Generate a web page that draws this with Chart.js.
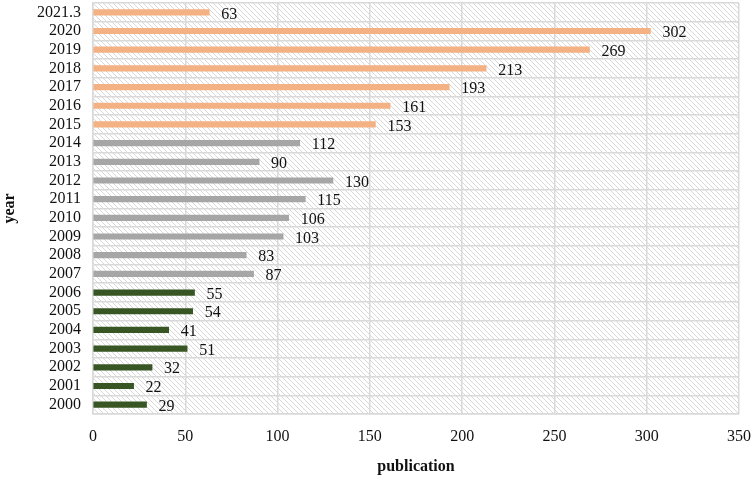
<!DOCTYPE html>
<html><head><meta charset="utf-8">
<script src="https://cdn.jsdelivr.net/npm/chart.js@4"></script>
<style>html,body{margin:0;padding:0;background:#fff}#w{width:754px;height:480px}</style>
</head><body><div id="w"><canvas id="c"></canvas></div>
<script>
const categories = ["2021.3","2020","2019","2018","2017","2016","2015","2014","2013","2012","2011","2010","2009","2008","2007","2006","2005","2004","2003","2002","2001","2000"];
const publications = [63,302,269,213,193,161,153,112,90,130,115,106,103,83,87,55,54,41,51,32,22,29];
const periodColors = {recent:"#F4B183", middle:"#A6A6A6", early:"#375623"};
const periods = ["recent","recent","recent","recent","recent","recent","recent","middle","middle","middle","middle","middle","middle","middle","middle","early","early","early","early","early","early","early"];
const xTicks = [0,50,100,150,200,250,300,350];

const FONT = "'Liberation Serif','Times New Roman',serif";

function hatch(ctx){
  const s = 5, p = document.createElement('canvas');
  p.width = s; p.height = s;
  const g = p.getContext('2d');
  g.fillStyle = '#ffffff'; g.fillRect(0,0,s,s);
  g.strokeStyle = '#d8d8d8'; g.lineWidth = 1;
  g.beginPath();
  g.moveTo(-1,-1); g.lineTo(s+1,s+1);
  g.moveTo(-1,s-1); g.lineTo(1,s+1);
  g.moveTo(s-1,-1); g.lineTo(s+1,1);
  g.stroke();
  return ctx.createPattern(p,'repeat');
}

const bgPlugin = {
  id:'bg',
  beforeDraw(chart){
    const {ctx, chartArea:a} = chart;
    ctx.save();
    ctx.fillStyle = hatch(ctx);
    ctx.fillRect(a.left,a.top,a.right-a.left,a.bottom-a.top);
    ctx.restore();
  }
};
const labelPlugin = {
  id:'vals',
  afterDatasetsDraw(chart){
    const ctx = chart.ctx;
    const meta = chart.getDatasetMeta(0);
    ctx.save();
    ctx.font = "16px " + FONT;
    ctx.fillStyle = '#111';
    ctx.textAlign = 'left'; ctx.textBaseline = 'middle';
    meta.data.forEach((el,i)=>{
      ctx.fillText(String(publications[i]), el.x + 12, el.y + 2);
    });
    ctx.restore();
  }
};

new Chart(document.getElementById('c'), {
  type:'bar',
  data:{
    labels: categories,
    datasets:[{
      data: publications,
      backgroundColor: periods.map(p=>periodColors[p]),
      barThickness: 5.5,
      borderWidth: 0
    }]
  },
  options:{
    indexAxis:'y',
    responsive:true, maintainAspectRatio:false, animation:false,
    layout:{padding:{top:3,right:15,left:0,bottom:0}},
    plugins:{legend:{display:false}, tooltip:{enabled:false}},
    scales:{
      x:{
        min:0, max:350,
        afterBuildTicks(s){ s.ticks = xTicks.map(v=>({value:v})); },
        afterFit(s){ s.height = 66; s.paddingLeft = 0; s.paddingRight = 0; },
        grid:{color:'#d9d9d9', lineWidth:1.5, drawTicks:false},
        border:{display:true, color:'#d9d9d9', width:1.5},
        ticks:{color:'#111', font:{family:FONT, size:16}, padding:13},
        title:{display:true, text:'publication', color:'#111', font:{family:FONT, size:16, weight:'bold'}, padding:{top:12}}
      },
      y:{
        afterFit(s){ s.width = 93; s.paddingTop = 0; s.paddingBottom = 0; },
        grid:{color:'#d9d9d9', lineWidth:1.5, drawTicks:false, offset:true},
        border:{display:true, color:'#d9d9d9', width:1.5},
        ticks:{color:'#111', font:{family:FONT, size:16}, padding:12, autoSkip:false},
        title:{display:true, text:'year', color:'#111', font:{family:FONT, size:16, weight:'bold'}, padding:{top:0,bottom:0}}
      }
    }
  },
  plugins:[bgPlugin,labelPlugin]
});
</script></body></html>
